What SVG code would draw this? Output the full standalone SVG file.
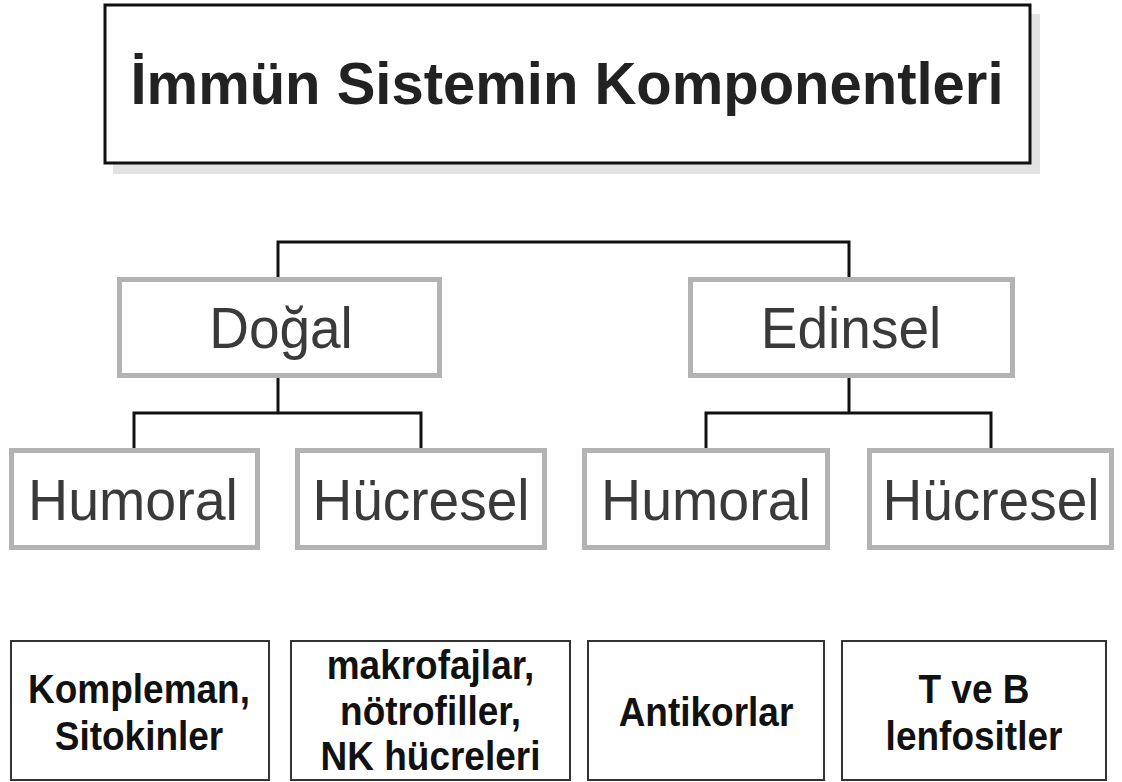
<svg xmlns="http://www.w3.org/2000/svg" width="1122" height="782" viewBox="0 0 1122 782">
<style>
.title{font-family:"Liberation Sans",Arial,sans-serif;font-weight:bold;font-size:58px;fill:#222;text-anchor:middle}
.mid{font-family:"Liberation Sans",Arial,sans-serif;font-size:55px;fill:#3a3a3a;text-anchor:middle}
.bot{font-family:"Liberation Sans",Arial,sans-serif;font-weight:bold;font-size:37px;fill:#111;text-anchor:middle}
.gbox{fill:#fff;stroke:#b3b3b3;stroke-width:5}
.bbox{fill:#fff;stroke:#333;stroke-width:2}
.conn{fill:none;stroke:#111;stroke-width:3}
</style>
<rect width="1122" height="782" fill="#fff"/>
<g id="title">
<rect x="113" y="14" width="927" height="160" fill="#e3e3e3"/>
<rect x="105" y="5" width="925" height="158" fill="#fff" stroke="#111" stroke-width="3"/>
<text class="title" transform="translate(567,104) scale(1,1.03)">İmmün Sistemin Komponentleri</text>
</g>
<g id="connectors">
<path class="conn" d="M278,278 V242 H849 V278"/>
<path class="conn" d="M278,377 V413"/>
<path class="conn" d="M134,448 V413 H421 V448"/>
<path class="conn" d="M849,377 V413"/>
<path class="conn" d="M706,448 V413 H991 V448"/>
</g>
<g id="dogal">
<rect class="gbox" x="119.5" y="279.5" width="320" height="96"/>
<text class="mid" transform="translate(281,348) scale(1,1.06)">Doğal</text>
</g>
<g id="edinsel">
<rect class="gbox" x="690.5" y="279.5" width="322" height="96"/>
<text class="mid" transform="translate(851,348) scale(1,1.06)">Edinsel</text>
</g>
<g id="humoral1">
<rect class="gbox" x="11.5" y="450.5" width="246" height="97"/>
<text class="mid" transform="translate(133,520) scale(1.01,1.06)">Humoral</text>
</g>
<g id="hucresel1">
<rect class="gbox" x="297.5" y="450.5" width="247" height="97"/>
<text class="mid" transform="translate(421,520) scale(1,1.06)">Hücresel</text>
</g>
<g id="humoral2">
<rect class="gbox" x="584.5" y="450.5" width="243" height="97"/>
<text class="mid" transform="translate(706,520) scale(1.01,1.06)">Humoral</text>
</g>
<g id="hucresel2">
<rect class="gbox" x="869.5" y="450.5" width="242" height="97"/>
<text class="mid" transform="translate(991,520) scale(1,1.06)">Hücresel</text>
</g>
<g id="b1">
<rect class="bbox" x="11" y="641" width="258" height="139"/>
<text class="bot" transform="translate(139,703) scale(1,1.12)">Kompleman,</text>
<text class="bot" transform="translate(139,750) scale(1,1.12)">Sitokinler</text>
</g>
<g id="b2">
<rect class="bbox" x="291" y="641" width="279" height="139"/>
<text class="bot" transform="translate(430.5,679) scale(1,1.12)">makrofajlar,</text>
<text class="bot" transform="translate(430.5,725) scale(1,1.12)">nötrofiller,</text>
<text class="bot" transform="translate(430.5,770) scale(1,1.12)">NK hücreleri</text>
</g>
<g id="b3">
<rect class="bbox" x="588" y="641" width="236" height="139"/>
<text class="bot" transform="translate(706,726) scale(1,1.12)">Antikorlar</text>
</g>
<g id="b4">
<rect class="bbox" x="842" y="641" width="264" height="139"/>
<text class="bot" transform="translate(974,703) scale(1,1.12)">T ve B</text>
<text class="bot" transform="translate(974,750) scale(1,1.12)">lenfositler</text>
</g>
</svg>
